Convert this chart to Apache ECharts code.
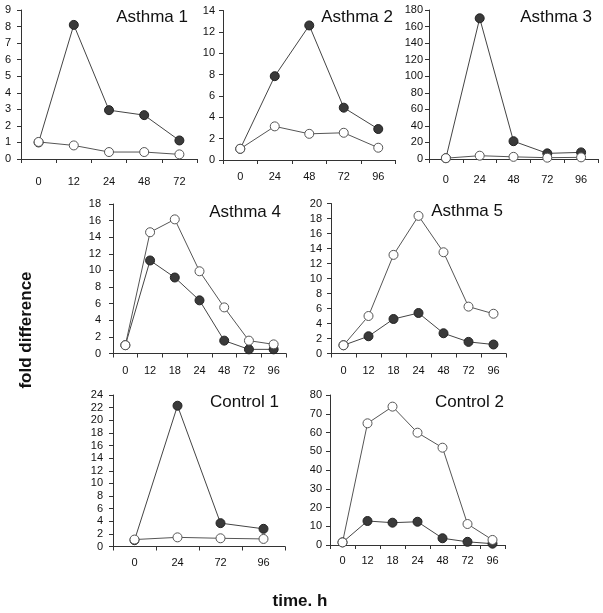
<!DOCTYPE html>
<html><head><meta charset="utf-8">
<script src="https://cdn.jsdelivr.net/npm/echarts@6/dist/echarts.min.js"></script>
<style>html,body{margin:0;padding:0;background:#fff}#c{width:603px;height:613px}</style>
</head><body><div id="c"></div>
<script>
// Categories (time, h)
const cats1 = ['0','12','24','48','72'];
const cats2 = ['0','24','48','72','96'];
const cats3 = ['0','24','48','72','96'];
const cats4 = ['0','12','18','24','48','72','96'];
const cats5 = ['0','12','18','24','48','72','96'];
const cats6 = ['0','24','72','96'];
const cats7 = ['0','12','18','24','48','72','96'];
// Filled (dark) series
const filled1 = [1.0, 8.1, 2.95, 2.65, 1.12];
const filled2 = [1.05, 7.85, 12.6, 4.9, 2.9];
const filled3 = [1.0, 170, 21.5, 6.8, 8.0];
const filled4 = [1.0, 11.2, 9.15, 6.4, 1.55, 0.5, 0.5];
const filled5 = [1.1, 2.3, 4.6, 5.4, 2.7, 1.55, 1.2];
const filled6 = [1.0, 22.3, 3.7, 2.8];
const filled7 = [1.4, 12.8, 11.9, 12.4, 3.6, 1.7, 0.7];
// Open (white) series
const open1 = [1.03, 0.82, 0.42, 0.42, 0.28];
const open2 = [1.05, 3.15, 2.45, 2.55, 1.15];
const open3 = [1.0, 4.0, 2.6, 1.6, 2.0];
const open4 = [1.0, 14.6, 16.15, 9.9, 5.55, 1.55, 1.1];
const open5 = [1.1, 5.0, 13.15, 18.35, 13.5, 6.25, 5.3];
const open6 = [1.1, 1.45, 1.3, 1.2];
const open7 = [1.4, 64.9, 73.8, 59.9, 51.9, 11.2, 2.7];
// Y axis ranges
const yMax = [9, 14, 180, 18, 20, 24, 80];
const yInt = [1, 2, 20, 2, 2, 2, 10];
const titles = ['Asthma 1','Asthma 2','Asthma 3','Asthma 4','Asthma 5','Control 1','Control 2'];

const cats = [cats1,cats2,cats3,cats4,cats5,cats6,cats7];
const filled = [filled1,filled2,filled3,filled4,filled5,filled6,filled7];
const open = [open1,open2,open3,open4,open5,open6,open7];

const grids = [
  {left:21, top:10, width:176, height:149},
  {left:223, top:10.5, width:172.5, height:149.5},
  {left:429, top:10, width:169, height:149},
  {left:113, top:204, width:173, height:149.5},
  {left:331, top:203.5, width:175, height:150},
  {left:113, top:395, width:172, height:151.5},
  {left:330, top:395, width:175, height:150}
];
const xMargin = [17, 11, 15, 12, 12, 10.5, 10.5];
const yMargin = [10, 8, 6, 12, 9, 10, 8];
const titlePos = [[188,17],[393,17],[592,17],[281,212],[503,211],[279,402],[504,402]];

const axisColor = '#333';
const font = 'Arial, "Liberation Sans", sans-serif';
const xAxis = [], yAxis = [], series = [], graphic = [];
for (let i = 0; i < 7; i++) {
  xAxis.push({
    gridIndex:i, type:'category', data:cats[i], boundaryGap:true,
    axisLine:{lineStyle:{color:axisColor,width:1}},
    axisTick:{show:true, length:4, lineStyle:{color:axisColor}},
    axisLabel:{color:'#111', fontSize:11, fontFamily:font, margin:xMargin[i]},
    splitLine:{show:false}
  });
  yAxis.push({
    gridIndex:i, type:'value', min:0, max:yMax[i], interval:yInt[i],
    axisLine:{show:true, lineStyle:{color:axisColor,width:1}},
    axisTick:{show:true, length:4, lineStyle:{color:axisColor}},
    axisLabel:{color:'#111', fontSize:11, fontFamily:font, margin:yMargin[i]},
    splitLine:{show:false}
  });
  series.push({
    type:'line', xAxisIndex:i, yAxisIndex:i, data:filled[i],
    symbol:'circle', symbolSize:9, animation:false,
    lineStyle:{color:'#444', width:1},
    itemStyle:{color:'#3a3a3a', borderColor:'#222', borderWidth:1}
  });
  series.push({
    type:'line', xAxisIndex:i, yAxisIndex:i, data:open[i],
    symbol:'circle', symbolSize:9, animation:false,
    lineStyle:{color:'#555', width:1},
    itemStyle:{color:'#fff', borderColor:'#555', borderWidth:1}
  });
  graphic.push({
    type:'text', x:titlePos[i][0], y:titlePos[i][1],
    style:{text:titles[i], fill:'#111', font:'17px ' + font, textAlign:'right', textVerticalAlign:'middle'}
  });
}
graphic.push({
  type:'text', x:26, y:330, rotation:Math.PI/2,
  style:{text:'fold difference', fill:'#111', font:'bold 17px ' + font, textAlign:'center', textVerticalAlign:'middle'}
});
graphic.push({
  type:'text', x:300, y:601,
  style:{text:'time. h', fill:'#111', font:'bold 17px ' + font, textAlign:'center', textVerticalAlign:'middle'}
});

const chart = echarts.init(document.getElementById('c'));
chart.setOption({
  animation:false,
  grid:grids.map(g => Object.assign({containLabel:false}, g)),
  xAxis, yAxis, series, graphic
});
</script>
</body></html>
